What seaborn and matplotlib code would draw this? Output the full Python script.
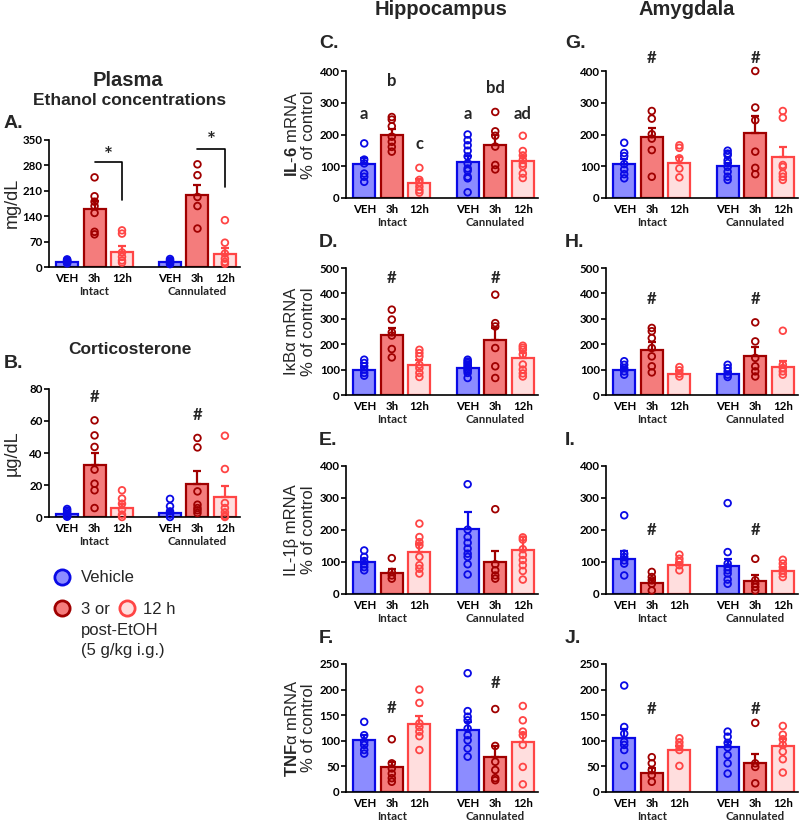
import numpy as np
import pandas as pd
import matplotlib
matplotlib.use('Agg')
import matplotlib.pyplot as plt
import matplotlib.transforms as mtransforms
import seaborn as sns
from matplotlib.collections import PathCollection

# ---- data ----
positions = [0, 1, 2, 3.75, 4.75, 5.75]
conditions = ['VEH', '3h', '12h', 'VEH', '3h', '12h']
tick_labels = ['VEH', '3h', '12h', 'VEH', '3h', '12h']
group_labels = ['Intact', 'Cannulated']
group_centers = [1, 4.75]
hue_order = ['VEH', '3h', '12h']

fill_colors = {'VEH': '#8c8cff', '3h': '#f47c7c', '12h': '#ffdede'}
edge_colors = {'VEH': '#0a0ae6', '3h': '#a00000', '12h': '#ff4545'}

# A. ethanol (mg/dL)
etoh_means = [14, 159, 41, 14, 198, 37]
etoh_sems = [4, 23, 16, 6, 28, 14]
etoh_points = [[10, 13, 15, 17, 19, 21], [247, 195, 180, 168, 149, 97, 90],
               [101, 92, 40, 28, 18, 12], [8, 12, 15, 18, 22],
               [283, 253, 193, 168, 106], [129, 67, 37, 23, 14, 9]]

# B. corticosterone (ug/dL)
cort_means = [1.9, 32.3, 5.6, 2.3, 20.6, 12.3]
cort_sems = [1.1, 7.7, 2.7, 1.2, 8.4, 6.9]
cort_points = [[5, 4, 3, 2, 1, 0.5, 0.2], [60.4, 51, 43.8, 29.6, 20.8, 16.7, 5.6],
               [16.7, 11.5, 8.3, 4.6, 1.5, 0], [11.3, 6.7, 3.5, 1.5, 0],
               [49.4, 43.5, 16, 7.7, 5.6, 4.2, 2.5], [50.8, 30, 8.75, 5.6, 2.9, 0.8, 0]]

# C. IL-6 hippocampus
il6_hip_means = [106, 198, 46, 112, 168, 117]
il6_hip_sems = [19, 18, 13, 20, 30, 15]
il6_hip_points = [[172, 121, 109, 77, 67, 51], [255, 247, 226, 193, 177, 161, 146],
                  [95, 57, 48, 36, 25, 17], [200, 182, 166, 149, 131, 109, 93, 86, 67, 62, 18],
                  [271, 210, 196, 162, 104, 90], [196, 148, 134, 120, 108, 100, 77, 63]]

# D. IkBa hippocampus
ikba_hip_means = [100, 236, 118, 105, 215, 145]
ikba_hip_sems = [10, 26, 18, 10, 50, 20]
ikba_hip_points = [[139, 126, 113, 100, 87, 76], [336, 297, 247, 234, 181, 148],
                   [178, 165, 152, 119, 106, 87, 71], [139, 132, 126, 120, 113, 107, 100, 95, 87, 67],
                   [395, 283, 270, 185, 113, 67], [194, 186, 178, 160, 120, 100, 85, 73]]

# E. IL-1b hippocampus
il1b_hip_means = [100, 66, 131, 204, 100, 137]
il1b_hip_sems = [8, 13, 24, 53, 35, 40]
il1b_hip_points = [[136, 116, 103, 93, 84, 74], [112, 69, 58, 48],
                   [220, 178, 162, 152, 116, 90, 79, 64],
                   [343, 201, 178, 160, 142, 126, 116, 93, 61],
                   [265, 93, 74, 58, 48], [177, 170, 140, 122, 106, 90, 72, 45]]

# F. TNFa hippocampus
tnf_hip_means = [101, 48, 132, 122, 69, 98]
tnf_hip_sems = [11, 11, 17, 15, 21, 18]
tnf_hip_points = [[137, 111, 98, 92, 82, 75], [103, 56, 46, 36, 27, 20],
                  [200, 174, 134, 127, 118, 109, 82],
                  [232, 158, 147, 140, 124, 111, 101, 85, 69],
                  [162, 90, 59, 43, 27, 23], [168, 140, 118, 111, 92, 49, 15]]

# G. IL-6 amygdala
il6_amy_means = [106, 191, 110, 100, 205, 130]
il6_amy_sems = [16, 28, 18, 11, 54, 31]
il6_amy_points = [[174, 142, 132, 107, 90, 75, 62], [274, 250, 201, 187, 151, 67],
                  [166, 158, 125, 93, 65], [149, 140, 135, 119, 110, 98, 83, 67, 57],
                  [400, 285, 245, 146, 95, 75], [274, 253, 104, 98, 77, 67, 57]]

# H. IkBa amygdala
ikba_amy_means = [100, 178, 83, 83, 155, 110]
ikba_amy_sems = [10, 31, 10, 9, 33, 25]
ikba_amy_points = [[133, 119, 106, 93, 80], [264, 251, 224, 185, 152, 113, 89],
                   [110, 97, 84, 73], [119, 106, 93, 80, 71],
                   [286, 211, 146, 113, 93, 73], [253, 119, 106, 93, 80]]

# I. IL-1b amygdala
il1b_amy_means = [110, 35, 90, 86, 41, 71]
il1b_amy_sems = [23, 13, 7, 22, 17, 10]
il1b_amy_points = [[246, 126, 116, 105, 95, 58], [69, 53, 43, 32, 11],
                   [123, 110, 100, 90, 74], [284, 131, 95, 84, 74, 64, 45, 32],
                   [110, 43, 32, 22, 11], [107, 95, 84, 74, 64, 53]]

# J. TNFa amygdala
tnf_amy_means = [106, 38, 83, 87, 56, 90]
tnf_amy_sems = [18, 9, 7, 10, 18, 13]
tnf_amy_points = [[208, 127, 114, 98, 92, 82, 51], [68, 56, 43, 33, 20],
                  [105, 97, 90, 82, 51], [118, 108, 96, 87, 72, 56, 36],
                  [135, 56, 49, 17], [129, 112, 103, 92, 79, 64, 38]]

# significance marks (x position, y value, text)
etoh_marks = [(1.5, 305, '*'), (5.25, 346, '*')]
cort_marks = [(1, 75, '#'), (4.75, 64, '#')]
il6_hip_marks = [(0, 266, 'a'), (1, 368, 'b'), (2, 170, 'c'),
                 (3.75, 266, 'a'), (4.75, 348, 'bd'), (5.75, 266, 'ad')]
ikba_hip_marks = [(1, 461, '#'), (4.75, 461, '#')]
tnf_hip_marks = [(1, 165, '#'), (4.75, 212, '#')]
il6_amy_marks = [(1, 442, '#'), (4.75, 442, '#')]
ikba_amy_marks = [(1, 378, '#'), (4.75, 378, '#')]
il1b_amy_marks = [(1, 199, '#'), (4.75, 199, '#')]
tnf_amy_marks = [(1, 163, '#'), (4.75, 163, '#')]

# ---- style ----
sns.set_style('ticks')
plt.rcParams['font.family'] = ['Liberation Sans', 'DejaVu Sans']
plt.rcParams['mathtext.fontset'] = 'custom'
plt.rcParams['mathtext.rm'] = 'Liberation Sans'
plt.rcParams['mathtext.bf'] = 'Liberation Sans:bold'

W, H = 800, 824
fig = plt.figure(figsize=(W / 100, H / 100), dpi=100)
TICK_FS = 8.3


def px_axes(left, top, right, bottom):
    return fig.add_axes([left / W, 1 - bottom / H, (right - left) / W, (bottom - top) / H])


def draw_panel(ax, means, sems, points, yticks, marks):
    bars = pd.DataFrame({'pos': positions, 'value': means, 'cond': conditions})
    sns.barplot(data=bars, x='pos', y='value', hue='cond', hue_order=hue_order,
                palette=fill_colors, native_scale=True, saturation=1, width=0.8,
                errorbar=None, legend=False, linewidth=1.5, ax=ax)
    pos_arr = np.array(positions)
    for patch in ax.patches:
        cx = patch.get_x() + patch.get_width() / 2
        i = int(np.argmin(np.abs(pos_arr - cx)))
        patch.set_edgecolor(edge_colors[conditions[i]])
        patch.set_linewidth(1.6)

    rows = []
    for p, c, vals in zip(positions, conditions, points):
        for v in vals:
            rows.append({'pos': p, 'value': v, 'cond': c})
    pts = pd.DataFrame(rows)
    sns.stripplot(data=pts, x='pos', y='value', hue='cond', hue_order=hue_order,
                  palette=edge_colors, native_scale=True, jitter=False, size=4.8,
                  linewidth=1.3, legend=False, zorder=4, ax=ax)
    for coll in ax.collections:
        if isinstance(coll, PathCollection):
            fc = coll.get_facecolors()
            coll.set_edgecolors(fc)
            coll.set_facecolors('none')
            coll.set_clip_on(False)

    for p, c, m, s in zip(positions, conditions, means, sems):
        ax.errorbar(p, m, yerr=[[0], [s]], fmt='none', ecolor=edge_colors[c],
                    elinewidth=1.6, capsize=3, capthick=1.6, zorder=3)

    for x, y, s in marks:
        ax.text(x, y, s, ha='center', va='center', fontfamily='Lato',
                fontweight='bold', fontsize=15 if s == '*' else 12, clip_on=False)

    ax.set_xlim(-0.66, 6.3)
    ax.set_ylim(0, yticks[-1])
    ax.set_yticks(yticks)
    ax.set_yticklabels([str(v) for v in yticks], fontfamily='Lato',
                       fontweight='bold', fontsize=TICK_FS)
    ax.set_xticks(positions)
    ax.set_xticklabels(tick_labels, fontfamily='Lato', fontweight='bold', fontsize=TICK_FS)
    below = mtransforms.offset_copy(ax.get_xaxis_transform(), fig=fig, y=-19, units='dots')
    for gx, gl in zip(group_centers, group_labels):
        ax.text(gx, 0, gl, transform=below, ha='center', va='top', fontfamily='Lato',
                fontweight='bold', fontsize=TICK_FS)
    ax.set_xlabel('')
    ax.set_ylabel('')
    sns.despine(ax=ax)
    for side in ['left', 'bottom']:
        ax.spines[side].set_linewidth(1.2)
        ax.spines[side].set_color('black')
    ax.tick_params(axis='x', length=0, pad=4, colors='black')
    ax.tick_params(axis='y', length=3.5, width=1.2, pad=1, colors='black')


# plasma
ax_a = px_axes(49, 140, 240, 267)
draw_panel(ax_a, etoh_means, etoh_sems, etoh_points, [0, 70, 140, 210, 280, 350], etoh_marks)
ax_a.plot([1, 2, 2], [288, 288, 184], color='black', lw=1.2, clip_on=False)
ax_a.plot([4.75, 5.75, 5.75], [325, 325, 221], color='black', lw=1.2, clip_on=False)

ax_b = px_axes(49, 389, 240, 517)
draw_panel(ax_b, cort_means, cort_sems, cort_points, [0, 20, 40, 60, 80], cort_marks)

# hippocampus
ax_c = px_axes(346, 71, 538, 198)
draw_panel(ax_c, il6_hip_means, il6_hip_sems, il6_hip_points, [0, 100, 200, 300, 400], il6_hip_marks)
ax_d = px_axes(346, 268, 538, 395)
draw_panel(ax_d, ikba_hip_means, ikba_hip_sems, ikba_hip_points, [0, 100, 200, 300, 400, 500], ikba_hip_marks)
ax_e = px_axes(346, 466, 538, 594)
draw_panel(ax_e, il1b_hip_means, il1b_hip_sems, il1b_hip_points, [0, 100, 200, 300, 400], [])
ax_f = px_axes(346, 664, 538, 792)
draw_panel(ax_f, tnf_hip_means, tnf_hip_sems, tnf_hip_points, [0, 50, 100, 150, 200, 250], tnf_hip_marks)

# amygdala
ax_g = px_axes(606, 71, 798, 198)
draw_panel(ax_g, il6_amy_means, il6_amy_sems, il6_amy_points, [0, 100, 200, 300, 400], il6_amy_marks)
ax_h = px_axes(606, 268, 798, 395)
draw_panel(ax_h, ikba_amy_means, ikba_amy_sems, ikba_amy_points, [0, 100, 200, 300, 400, 500], ikba_amy_marks)
ax_i = px_axes(606, 466, 798, 594)
draw_panel(ax_i, il1b_amy_means, il1b_amy_sems, il1b_amy_points, [0, 100, 200, 300, 400], il1b_amy_marks)
ax_j = px_axes(606, 664, 798, 792)
draw_panel(ax_j, tnf_amy_means, tnf_amy_sems, tnf_amy_points, [0, 50, 100, 150, 200, 250], tnf_amy_marks)

# ---- overlay for titles, labels, legend (pixel coordinates) ----
ov = fig.add_axes([0, 0, 1, 1])
ov.set_xlim(0, W)
ov.set_ylim(H, 0)
ov.axis('off')

ov.text(441, 15, 'Hippocampus', ha='center', va='baseline', fontsize=14.5, fontweight='bold')
ov.text(687, 15, 'Amygdala', ha='center', va='baseline', fontsize=14.5, fontweight='bold')
ov.text(128, 86, 'Plasma', ha='center', va='baseline', fontsize=14.5, fontweight='bold')
ov.text(130, 105, 'Ethanol concentrations', ha='center', va='baseline', fontsize=12.5, fontweight='bold')
ov.text(130, 354, 'Corticosterone', ha='center', va='baseline', fontsize=12.5, fontweight='bold')

for letter, x, y in [('A.', 4, 128), ('B.', 4, 368), ('C.', 319, 48), ('D.', 319, 247),
                     ('E.', 319, 445), ('F.', 319, 643), ('G.', 565, 48), ('H.', 565, 247),
                     ('I.', 565, 445), ('J.', 565, 643)]:
    ov.text(x, y, letter, ha='left', va='baseline', fontsize=14, fontweight='bold')

ov.text(12, 203, 'mg/dL', rotation=90, ha='center', va='center', fontsize=13)
ov.text(12, 453, 'µg/dL', rotation=90, ha='center', va='center', fontsize=13)

hip_ylabels = [r'$\mathbf{IL}$-$\mathbf{6}$ mRNA' + '\n% of control',
               'IκBα mRNA\n% of control',
               'IL-1β mRNA\n% of control',
               r'$\mathbf{TNF}$α mRNA' + '\n% of control']
for lbl, yc in zip(hip_ylabels, [134.5, 331.5, 530, 728]):
    ov.text(300, yc, lbl, rotation=90, ha='center', va='center', fontsize=12,
            multialignment='center', linespacing=1.15)

# legend
ov.scatter([62], [577], s=120, color=fill_colors['VEH'], edgecolor=edge_colors['VEH'], linewidth=2, clip_on=False)
ov.scatter([62], [608], s=120, color=fill_colors['3h'], edgecolor=edge_colors['3h'], linewidth=2, clip_on=False)
ov.scatter([127], [608], s=120, color=fill_colors['12h'], edgecolor=edge_colors['12h'], linewidth=2, clip_on=False)
ov.text(81, 578, 'Vehicle', ha='left', va='center', fontsize=12)
ov.text(81, 609, '3 or', ha='left', va='center', fontsize=12)
ov.text(143, 609, '12 h', ha='left', va='center', fontsize=12)
ov.text(81, 630, 'post-EtOH', ha='left', va='center', fontsize=12)
ov.text(81, 650, '(5 g/kg i.g.)', ha='left', va='center', fontsize=12)

fig.savefig('out.png', dpi=100, facecolor='white')
